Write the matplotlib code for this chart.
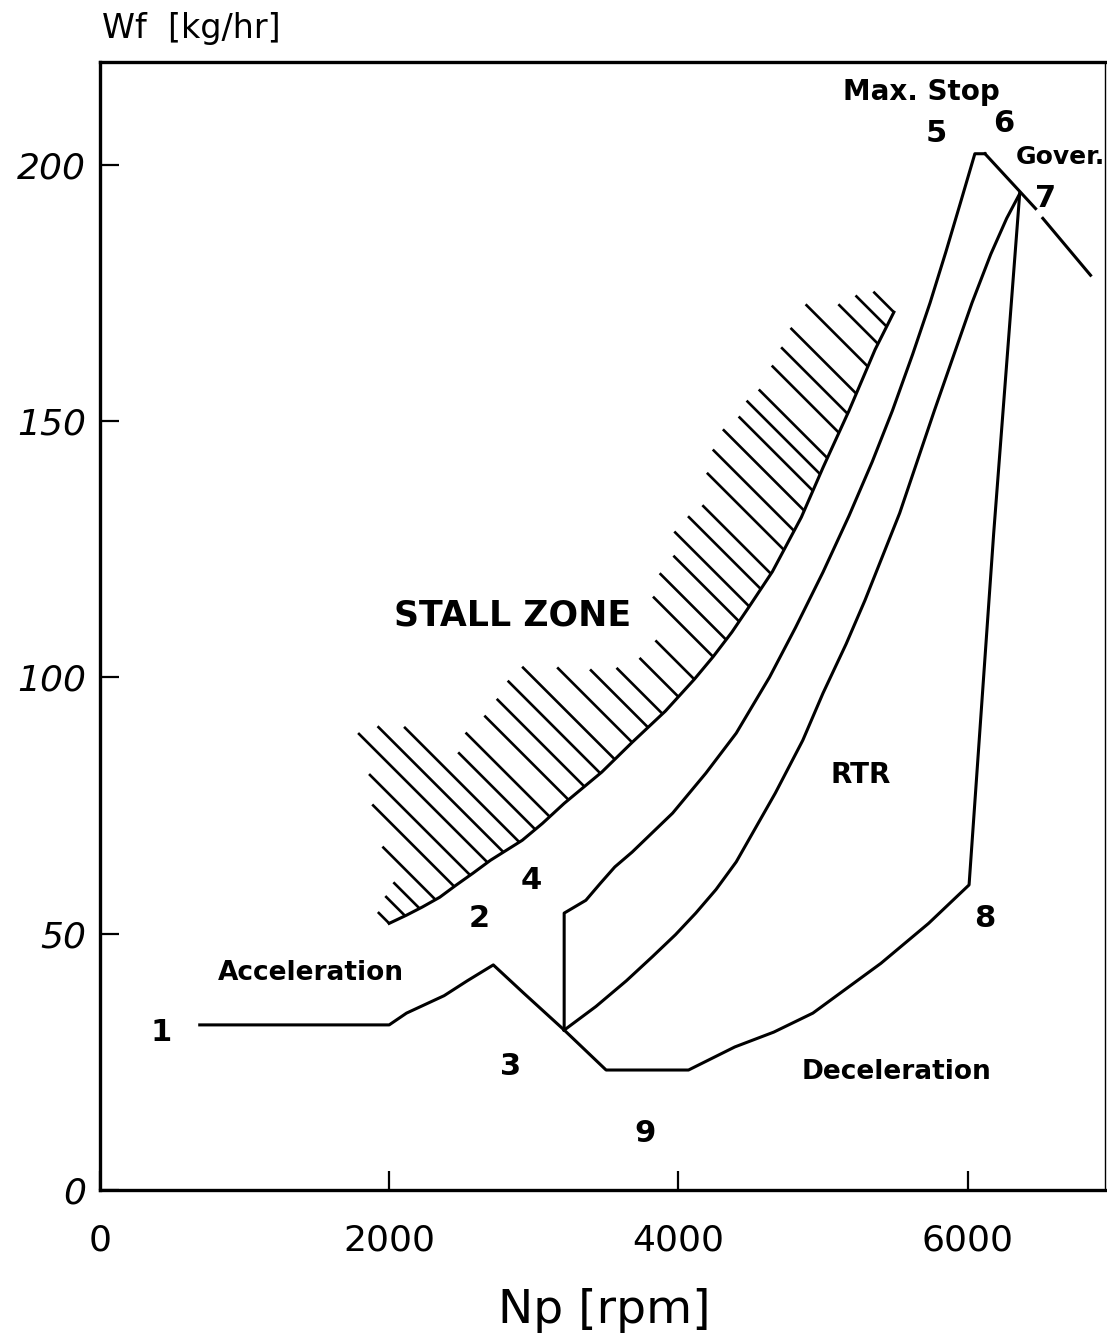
import numpy as np
import matplotlib.pyplot as plt
from matplotlib.collections import LineCollection

# fuel schedule: 1 -> 2 -> 3 (acceleration)
acc_np = [690, 2000, 2120, 2380, 2540, 2720, 2930, 3210]
acc_wf = [32.2, 32.2, 34.5, 37.9, 40.8, 43.9, 38.4, 31.2]

# 3 -> 9 -> 8 -> 7 (deceleration and back up to governor)
dec_np = [3210, 3500, 4070, 4390, 4660, 4930, 5400, 5730, 6010, 6180, 6360]
dec_wf = [31.2, 23.4, 23.4, 27.9, 30.8, 34.5, 44.2, 52.0, 59.5, 128.0, 194.3]

# 3 -> 4 -> 5 -> 6 (max stop)
max_np = [3210, 3210, 3360, 3460, 3560, 3680, 3960, 4190, 4400, 4630, 4810, 5000,
          5180, 5340, 5480, 5620, 5740, 5850, 5950, 6050, 6120]
max_wf = [31.2, 54.0, 56.5, 59.8, 63.0, 65.9, 73.5, 81.3, 89.1, 100.0, 109.7, 120.5,
          131.5, 142.0, 152.0, 163.0, 173.0, 183.0, 192.5, 202.1, 202.1]

# RTR curve 3 -> 7
rtr_np = [3210, 3230, 3430, 3640, 3820, 3980, 4120, 4260, 4400, 4670, 4860, 5000,
          5160, 5290, 5410, 5530, 5650, 5770, 5900, 6030, 6160, 6270, 6360]
rtr_wf = [31.2, 31.6, 35.8, 40.8, 45.5, 49.8, 54.0, 58.6, 64.0, 77.4, 87.7, 96.9,
          106.5, 115.0, 123.5, 132.0, 142.0, 152.0, 162.5, 173.0, 182.5, 189.5, 194.3]

# governor droop line (broken under the "7")
gov1_np = [6120, 6470]
gov1_wf = [202.1, 191.4]
gov2_np = [6520, 6850]
gov2_wf = [189.5, 178.4]

# stall boundary
stall_np = [2000, 2120, 2230, 2350, 2460, 2580, 2700, 2920, 3060, 3210, 3470, 3680,
            3910, 4110, 4240, 4370, 4490, 4650, 4850, 5000, 5180, 5360, 5490]
stall_wf = [52.0, 53.6, 55.2, 57.1, 59.4, 61.8, 64.3, 68.2, 71.5, 75.4, 81.5, 87.3,
            93.4, 99.6, 104.0, 108.8, 113.8, 120.6, 131.2, 140.9, 152.0, 163.9, 171.2]

# hatch strokes on the stall side: foot position (rpm) and stroke length (px)
hatch_np = [2000, 2110, 2210, 2320, 2450, 2560, 2680, 2790, 2900, 3010, 3110, 3240,
            3350, 3460, 3560, 3680, 3790, 3890, 4000, 4110, 4240, 4330, 4420, 4490,
            4570, 4640, 4730, 4800, 4870, 4930, 4980, 5030, 5110, 5170, 5230, 5310,
            5380, 5440, 5490]
hatch_len = [16, 28, 37, 75, 116, 143, 183, 178, 163, 109, 119, 119,
             124, 131, 131, 106, 82, 65, 55, 55, 85, 94, 93, 106,
             103, 97, 109, 115, 115, 105, 104, 97, 95, 94, 93, 88,
             56, 44, 29]

# point labels
pt_text = ['1', '2', '3', '4', '5', '6', '7', '8', '9']
pt_np = [420, 2620, 2840, 2980, 5780, 6250, 6540, 6120, 3770]
pt_wf = [30.8, 53.0, 24.0, 60.4, 206.0, 208.0, 193.4, 53.0, 11.1]

xticks = [0, 2000, 4000, 6000]
yticks = [0, 50, 100, 150, 200]

fig = plt.figure(figsize=(11.07, 13.41), dpi=100)
ax = fig.add_axes([0.0903, 0.1126, 0.9079, 0.8412])
ax.set_xlim(0, 6950)
ax.set_ylim(0, 220)

lw = 2.2
ax.plot(acc_np, acc_wf, color='black', lw=lw)
ax.plot(dec_np, dec_wf, color='black', lw=lw)
ax.plot(max_np, max_wf, color='black', lw=lw)
ax.plot(rtr_np, rtr_wf, color='black', lw=lw)
ax.plot(gov1_np, gov1_wf, color='black', lw=lw)
ax.plot(gov2_np, gov2_wf, color='black', lw=lw)
ax.plot(stall_np, stall_wf, color='black', lw=lw)

# hatching: strokes go up-left at 45 deg in screen space from the boundary
foot_wf = np.interp(hatch_np, stall_np, stall_wf)
feet = ax.transData.transform(np.column_stack([hatch_np, foot_wf]))
d = np.array(hatch_len) / np.sqrt(2)
tops = feet + np.column_stack([-d, d])
inv = ax.transData.inverted()
segs = [[inv.transform(f), inv.transform(t)] for f, t in zip(feet, tops)]
ax.add_collection(LineCollection(segs, colors='black', linewidths=1.9))

bold = dict(fontweight='bold', family='DejaVu Sans', ha='center', va='center')
for t, x, y in zip(pt_text, pt_np, pt_wf):
    ax.text(x, y, t, fontsize=22, **bold)

ax.text(2850, 112.1, 'STALL ZONE', fontsize=25, **bold)
ax.text(5260, 80.9, 'RTR', fontsize=20, **bold)
ax.text(1460, 42.3, 'Acceleration', fontsize=19, **bold)
ax.text(5510, 23.0, 'Deceleration', fontsize=19, **bold)
ax.text(5680, 214.2, 'Max. Stop', fontsize=20, **bold)
ax.text(6330, 201.4, 'Gover.', fontsize=18, fontweight='bold', family='DejaVu Sans',
        ha='left', va='center', clip_on=False)

ax.set_xticks(xticks)
ax.set_yticks(yticks)
ax.set_xticklabels([str(v) for v in xticks], fontsize=26)
ax.set_yticklabels([str(v) for v in yticks], fontsize=26, style='italic')
ax.tick_params(axis='both', direction='in', length=14, width=1.6)
ax.tick_params(axis='x', pad=24)
ax.tick_params(axis='y', pad=10)
for s in ax.spines.values():
    s.set_linewidth(2.4)
ax.spines['right'].set_linewidth(1.0)

fig.text(0.092, 0.979, 'Wf  [kg/hr]', fontsize=24, ha='left', va='center')
fig.text(0.546, 0.023, 'Np [rpm]', fontsize=34, ha='center', va='center')

fig.savefig('out.png', dpi=100)
